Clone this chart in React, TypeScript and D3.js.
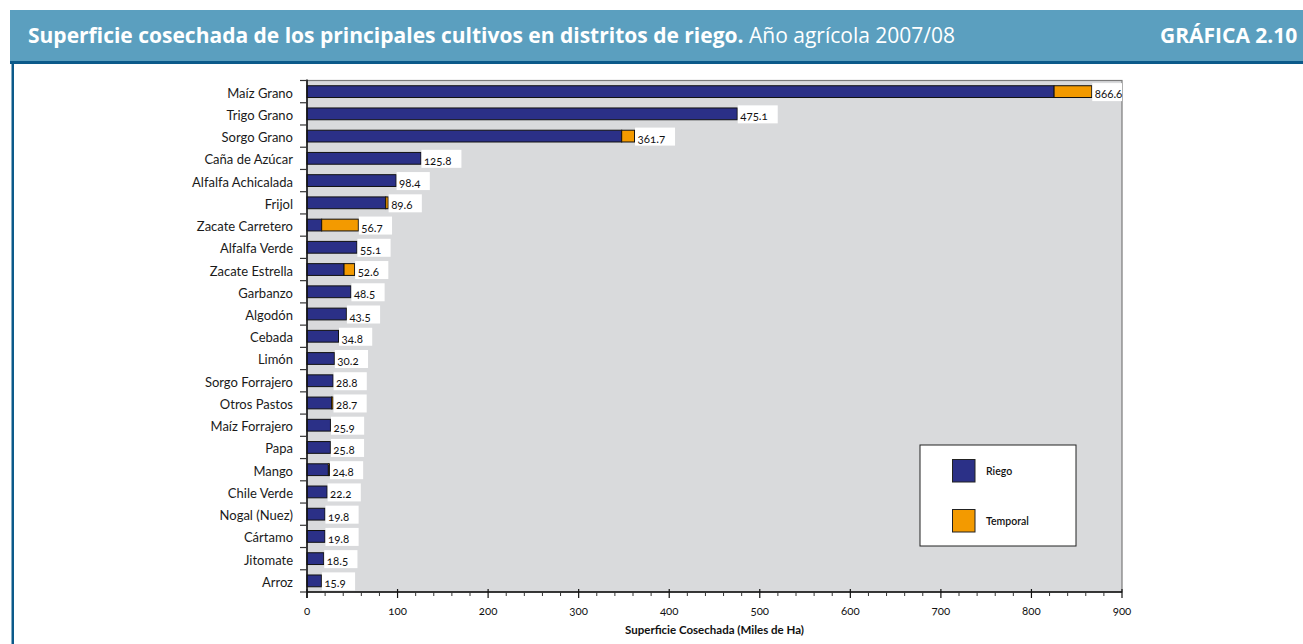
import React from 'react';
import * as d3 from 'd3';

const categories = ['Maíz Grano','Trigo Grano','Sorgo Grano','Caña de Azúcar','Alfalfa Achicalada','Frijol','Zacate Carretero','Alfalfa Verde','Zacate Estrella','Garbanzo','Algodón','Cebada','Limón','Sorgo Forrajero','Otros Pastos','Maíz Forrajero','Papa','Mango','Chile Verde','Nogal (Nuez)','Cártamo','Jitomate','Arroz'];
const riego = [825.0,475.1,347.5,125.8,98.4,86.9,16.2,55.1,40.9,48.5,43.5,34.8,30.2,28.8,27.2,25.9,25.8,23.6,22.2,19.8,19.8,18.5,15.9];
const temporal = [41.6,0,14.2,0,0,2.7,40.5,0,11.7,0,0,0,0,0,1.5,0,0,1.2,0,0,0,0,0];
const totalLabels = ['866.6','475.1','361.7','125.8','98.4','89.6','56.7','55.1','52.6','48.5','43.5','34.8','30.2','28.8','28.7','25.9','25.8','24.8','22.2','19.8','19.8','18.5','15.9'];
const xTicks = [0,100,200,300,400,500,600,700,800,900];
const xMinorTicks = d3.range(0, 901, 20);
const seriesNames = ['Riego','Temporal'];

const NAVY = '#2B3087';
const ORANGE = '#F39A00';
const FONT = 'Lato, "Open Sans", sans-serif';
const TITLE_FONT = '"Open Sans", Lato, sans-serif';

export default function App() {
  const left = 307, right = 1122, top = 80.5, bottom = 592;
  const x = d3.scaleLinear().domain([0, 900]).range([left, right]);
  const y = d3.scaleBand<string>().domain(categories).range([top, bottom]).paddingInner(0.47).paddingOuter(0.235);
  const step = y.step();
  const bw = y.bandwidth();
  const boundaries = d3.range(categories.length + 1).map(i => top + i * step);

  return (
    <svg width={1303} height={644} style={{ position: 'absolute', left: 0, top: 0, background: '#fff' }}>
      {/* header */}
      <rect x={10} y={10} width={1293} height={52} fill="#5B9FBF" />
      <rect x={10} y={61} width={1293} height={3} fill="#0B5A8A" />
      <rect x={11.5} y={62} width={2.5} height={582} fill="#0B5A8A" />
      <text x={28} y={43} fill="#fff" style={{ fontFamily: TITLE_FONT, fontSize: 21 }}>
        <tspan fontWeight={700}>Superficie cosechada de los principales cultivos en distritos de riego.</tspan>
        <tspan fontWeight={400}> Año agrícola 2007/08</tspan>
      </text>
      <text x={1160} y={43} fill="#fff" fontWeight={700} style={{ fontFamily: TITLE_FONT, fontSize: 21 }}>GRÁFICA 2.10</text>

      {/* plot area */}
      <rect x={left} y={top} width={right - left} height={bottom - top} fill="#D9DADC" stroke="#7a7a7a" strokeWidth={1.2} />

      {/* bars */}
      {categories.map((c, i) => {
        const y0 = y(c)!;
        const xr = x(riego[i]);
        const xt = x(riego[i] + temporal[i]);
        const lbl = totalLabels[i];
        const boxW = lbl.length * 6.8 + 6;
        return (
          <g key={c}>
            <rect x={x(0)} y={y0} width={xr - x(0)} height={bw} fill={NAVY} stroke="#111" strokeWidth={1} />
            {temporal[i] > 0 && (
              <rect x={xr} y={y0} width={xt - xr} height={bw} fill={ORANGE} stroke="#111" strokeWidth={1} />
            )}
            <rect x={xt + 0.5} y={y0 + bw / 2 - 8.5} width={Math.min(boxW, right - xt - 0.5)} height={18} fill="#fff" />
            <text x={xt + 3} y={y0 + bw / 2 + 6.5} fill="#111" style={{ fontFamily: FONT, fontSize: 11.5, fontVariantNumeric: 'oldstyle-nums' }}>{lbl}</text>
            <text x={293} y={y0 + bw / 2 + 6} textAnchor="end" fill="#1a1a1a" style={{ fontFamily: FONT, fontSize: 13 }}>{c}</text>
          </g>
        );
      })}

      {/* y axis */}
      <line x1={left} x2={left} y1={top - 1} y2={bottom + 6} stroke="#111" strokeWidth={1.5} />
      {boundaries.map((b, i) => (
        <line key={i} x1={left - 7} x2={left} y1={b} y2={b} stroke="#333" strokeWidth={1.2} />
      ))}

      {/* x axis */}
      <line x1={left} x2={right} y1={bottom} y2={bottom} stroke="#111" strokeWidth={1.5} />
      {xMinorTicks.filter(t => t % 100 !== 0).map(t => (
        <line key={'m' + t} x1={x(t)} x2={x(t)} y1={bottom} y2={bottom + 4} stroke="#333" strokeWidth={1} />
      ))}
      {xTicks.map(t => (
        <g key={t}>
          <line x1={x(t)} x2={x(t)} y1={bottom - 3} y2={bottom + 6} stroke="#111" strokeWidth={1.2} />
          <text x={x(t)} y={615} textAnchor="middle" fill="#111" style={{ fontFamily: FONT, fontSize: 11.5, fontVariantNumeric: 'oldstyle-nums' }}>{t}</text>
        </g>
      ))}
      <text x={(left + right) / 2} y={634} textAnchor="middle" fill="#111" fontWeight={700} style={{ fontFamily: FONT, fontSize: 11.5 }}>Superficie Cosechada (Miles de Ha)</text>

      {/* legend */}
      <rect x={920} y={445} width={156} height={101} fill="#fff" stroke="#222" strokeWidth={1} />
      {seriesNames.map((s, i) => (
        <g key={s}>
          <rect x={952.5} y={459.5 + i * 50} width={22.5} height={22.5} fill={i === 0 ? NAVY : ORANGE} stroke="#222" strokeWidth={1} />
          <text x={986} y={475 + i * 50} fill="#111" fontWeight={600} style={{ fontFamily: FONT, fontSize: 10.5 }}>{s}</text>
        </g>
      ))}
    </svg>
  );
}
